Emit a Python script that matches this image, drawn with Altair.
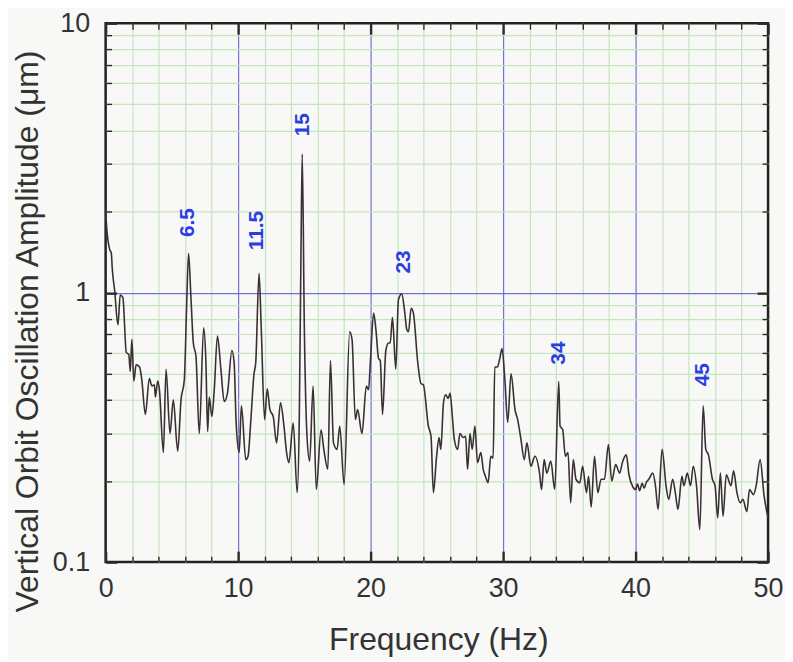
import altair as alt
import pandas as pd

# ---- spectrum ----
freq = [0.0, 0.1, 0.3, 0.43, 0.5, 0.68, 0.93, 1.1, 1.3, 1.56, 1.75, 1.86, 1.98, 2.13, 2.3, 2.56, 2.73,
        3.0, 3.3, 3.5, 3.68, 3.76, 3.93, 4.06, 4.36, 4.56, 4.86, 5.11, 5.44, 5.69, 5.94, 6.11, 6.26,
        6.44, 6.62, 6.82, 7.07, 7.4, 7.57, 7.7, 7.82, 8.02, 8.2, 8.44, 8.7, 8.95, 9.2, 9.53, 9.7,
        9.85, 10.08, 10.25, 10.58, 10.75, 10.95, 11.2, 11.33, 11.58, 11.75, 12.0, 12.2, 12.4, 12.65,
        12.9, 13.2, 13.46, 13.66, 13.83, 14.16, 14.46, 14.62, 14.75, 14.84, 15.0, 15.2, 15.4, 15.66,
        15.9, 16.26, 16.47, 16.77, 16.97, 17.2, 17.47, 17.67, 18.0, 18.42, 18.6, 18.85, 19.02, 19.35,
        19.68, 19.85, 19.98, 20.23, 20.4, 20.6, 20.73, 20.9, 21.15, 21.35, 21.48, 21.65, 21.9, 22.1,
        22.35, 22.56, 22.73, 22.86, 23.06, 23.23, 23.56, 23.8, 23.98, 24.36, 24.56, 24.74, 24.98,
        25.17, 25.3, 25.5, 25.66, 25.86, 26.0, 26.17, 26.32, 26.57, 26.74, 27.0, 27.17, 27.32, 27.5,
        27.67, 27.87, 28.07, 28.32, 28.5, 28.67, 28.87, 29.07, 29.25, 29.37, 29.57, 29.75, 29.92,
        30.13, 30.35, 30.6, 30.9, 31.1, 31.35, 31.6, 31.8, 32.1, 32.4, 32.75, 32.9, 33.1, 33.3, 33.6,
        33.9, 34.2, 34.3, 34.5, 34.7, 34.9, 35.1, 35.3, 35.5, 35.8, 36.0, 36.3, 36.45, 36.65, 36.9,
        37.15, 37.4, 37.65, 37.95, 38.2, 38.5, 38.8, 39.0, 39.3, 39.5, 39.8, 40.0, 40.15, 40.3, 40.5,
        40.65, 40.8, 41.0, 41.3, 41.5, 41.7, 42.0, 42.3, 42.5, 42.8, 43.0, 43.2, 43.5, 43.65, 43.9,
        44.15, 44.35, 44.6, 44.85, 45.1, 45.3, 45.5, 45.8, 46.0, 46.2, 46.4, 46.6, 46.85, 47.2, 47.4,
        47.65, 47.9, 48.1, 48.4, 48.6, 48.9, 49.1, 49.4, 49.7, 50.0]
amp = [2.0, 1.7, 1.45, 1.40, 1.23, 1.02, 0.76, 0.98, 0.96, 0.60, 0.59, 0.51, 0.67, 0.47, 0.54, 0.53, 0.475,
       0.353, 0.48, 0.45, 0.455, 0.41, 0.47, 0.436, 0.255, 0.52, 0.30, 0.40, 0.258, 0.40, 0.475, 0.88, 1.40,
       0.96, 0.65, 0.58, 0.30, 0.74, 0.55, 0.305, 0.41, 0.347, 0.436, 0.69, 0.52, 0.395, 0.425, 0.61, 0.55,
       0.33, 0.255, 0.38, 0.24, 0.247, 0.33, 0.50, 0.55, 1.18, 0.73, 0.338, 0.44, 0.368, 0.347,
       0.277, 0.39, 0.32, 0.255, 0.234, 0.328, 0.181, 0.35, 1.5, 3.27, 0.73, 0.293, 0.237, 0.45,
       0.186, 0.31, 0.262, 0.221, 0.56, 0.277, 0.262, 0.32, 0.194, 0.716, 0.67, 0.338, 0.368, 0.30,
       0.45, 0.436, 0.55, 0.84, 0.73, 0.57, 0.56, 0.353, 0.61, 0.65, 0.65, 0.81, 0.52, 0.94,
       0.99, 0.86, 0.73, 0.716, 0.875, 0.84, 0.55, 0.46, 0.455, 0.32, 0.293, 0.181, 0.247,
       0.29, 0.262, 0.39, 0.418, 0.405, 0.424, 0.347, 0.285, 0.262, 0.30, 0.29, 0.293, 0.221, 0.30,
       0.262, 0.32, 0.234, 0.255, 0.221, 0.208, 0.197, 0.247, 0.243, 0.53, 0.53, 0.57, 0.62,
       0.48, 0.33, 0.50, 0.368, 0.338, 0.285, 0.24, 0.277, 0.227, 0.247, 0.214, 0.186, 0.24, 0.214, 0.237,
       0.186, 0.468, 0.32, 0.31, 0.247, 0.255, 0.166, 0.24, 0.203, 0.197, 0.227, 0.181, 0.208, 0.16, 0.247,
       0.181, 0.203, 0.203, 0.273, 0.2, 0.23, 0.214, 0.234, 0.25, 0.211, 0.19, 0.186, 0.195, 0.184, 0.196,
       0.188, 0.197, 0.203, 0.214, 0.192, 0.157, 0.262, 0.192, 0.171, 0.203, 0.181, 0.157, 0.208, 0.192,
       0.214, 0.192, 0.227, 0.192, 0.132, 0.38, 0.262, 0.25, 0.203, 0.192, 0.146, 0.214, 0.148, 0.211,
       0.192, 0.218, 0.181, 0.166, 0.171, 0.154, 0.186, 0.178, 0.192, 0.24, 0.176, 0.146]

# ---- handwritten peak annotations ----
peak_labels = ["6.5", "11.5", "15", "23", "34", "45"]
peak_label_freq = [6.2, 11.4, 14.9, 22.5, 34.2, 45.1]
peak_label_amp = [1.82, 1.70, 4.2, 1.30, 0.597, 0.496]

# ---- tick values ----
x_major = [0, 10, 20, 30, 40, 50]
x_minor = [2, 4, 6, 8, 12, 14, 16, 18, 22, 24, 26, 28, 32, 34, 36, 38, 42, 44, 46, 48]
x_grid = [2, 4, 6, 8, 10, 12, 14, 16, 18, 20, 22, 24, 26, 28, 30, 32, 34, 36, 38, 40, 42, 44, 46, 48]
y_major = [0.1, 1, 10]
y_minor = [0.2, 0.3, 0.4, 0.5, 0.6, 0.7, 0.8, 0.9, 2, 3, 4, 5, 6, 7, 8, 9]
y_grid = [0.2, 0.3, 0.4, 0.5, 0.6, 0.7, 0.8, 0.9, 1, 2, 3, 4, 5, 6, 7, 8, 9]

df = pd.DataFrame({"freq": freq, "amp": amp})
notes = pd.DataFrame({"label": peak_labels, "freq": peak_label_freq, "amp": peak_label_amp})

FONT = "Liberation Sans"
TICK = "#2b2b2b"
GREEN = "#c6e5be"
BLUE = "#7272d2"
TEXT = "#333333"

xs = alt.Scale(domain=[0, 50], nice=False, zero=False)
ys = alt.Scale(type="log", domain=[0.1, 10], nice=False)


def grid_axis(orient, values, test):
    return alt.Axis(orient=orient, values=values, grid=True, ticks=False, labels=False,
                    domain=False, title="",
                    gridColor={"condition": {"test": test, "value": BLUE}, "value": GREEN},
                    gridWidth=1.2, gridOpacity=1)


def tick_axis(orient, values, size, width, **kw):
    opts = dict(orient=orient, values=values, grid=False, domain=False, ticks=True,
                tickSize=size, offset=-size, tickWidth=width, tickColor=TICK, zindex=2)
    opts.update(kw)
    if "labels" not in opts:
        opts["labels"] = False
    if "title" not in opts:
        opts["title"] = ""
    return alt.Axis(**opts)


grid_layer = alt.Chart(df).mark_line(strokeOpacity=0).encode(
    x=alt.X("freq:Q", scale=xs, axis=grid_axis("bottom", x_grid, "datum.value % 10 === 0")),
    y=alt.Y("amp:Q", scale=ys, axis=grid_axis("left", y_grid, "datum.value === 1")),
)

minor_bl = alt.Chart(df).mark_line(strokeOpacity=0).encode(
    x=alt.X("freq:Q", scale=xs, axis=tick_axis("bottom", x_minor, 6, 1.4)),
    y=alt.Y("amp:Q", scale=ys, axis=tick_axis("left", y_minor, 6, 1.4)),
)

main = alt.Chart(df).mark_line(color="#3a3034", strokeWidth=1.6, interpolate="monotone").encode(
    x=alt.X("freq:Q", scale=xs, axis=tick_axis(
        "bottom", x_major, 11, 2.4, labels=True, format="d",
        labelFont=FONT, labelFontSize=27, labelColor=TEXT, labelPadding=14,
        labelFlush=False, labelOverlap=False,
        title="Frequency (Hz)", titleFont=FONT, titleFontSize=32, titleColor=TEXT,
        titleFontWeight="normal", titleBaseline="alphabetic", titleX=334, titleY=99)),
    y=alt.Y("amp:Q", scale=ys, axis=tick_axis(
        "left", y_major, 11, 2.4, labels=True, format="~g",
        labelFont=FONT, labelFontSize=27, labelColor=TEXT, labelPadding=16,
        labelFlush=False, labelOverlap=False,
        title="Vertical Orbit Oscillation Amplitude (μm)", titleFont=FONT, titleFontSize=32,
        titleColor=TEXT, titleFontWeight="normal", titleAngle=270,
        titleBaseline="alphabetic", titleX=-79, titleY=309)),
)

annot = alt.Chart(notes).mark_text(
    angle=270, align="center", baseline="middle", color="#2b3de3",
    fontSize=21, font=FONT, fontWeight="bold",
).encode(
    x=alt.X("freq:Q", scale=xs, axis=tick_axis("top", x_minor, 6, 1.4)),
    y=alt.Y("amp:Q", scale=ys, axis=tick_axis("right", y_minor, 6, 1.4)),
    text="label:N",
)

major_tr = alt.Chart(df).mark_line(strokeOpacity=0).encode(
    x=alt.X("freq:Q", scale=xs, axis=tick_axis("top", x_major, 11, 2.4)),
    y=alt.Y("amp:Q", scale=ys, axis=tick_axis("right", y_major, 11, 2.4)),
)

chart = alt.layer(grid_layer, minor_bl, main, annot, major_tr).resolve_axis(
    x="independent", y="independent"
).properties(
    width=665, height=541,
    padding={"left": 98, "top": 14, "right": 17, "bottom": 97},
    autosize=alt.AutoSizeParams(type="none"),
    background="#f8f8f6",
).configure_view(stroke="#222222", strokeWidth=2.5)

chart.save("out.html", embed_options={"renderer": "svg", "actions": False})
